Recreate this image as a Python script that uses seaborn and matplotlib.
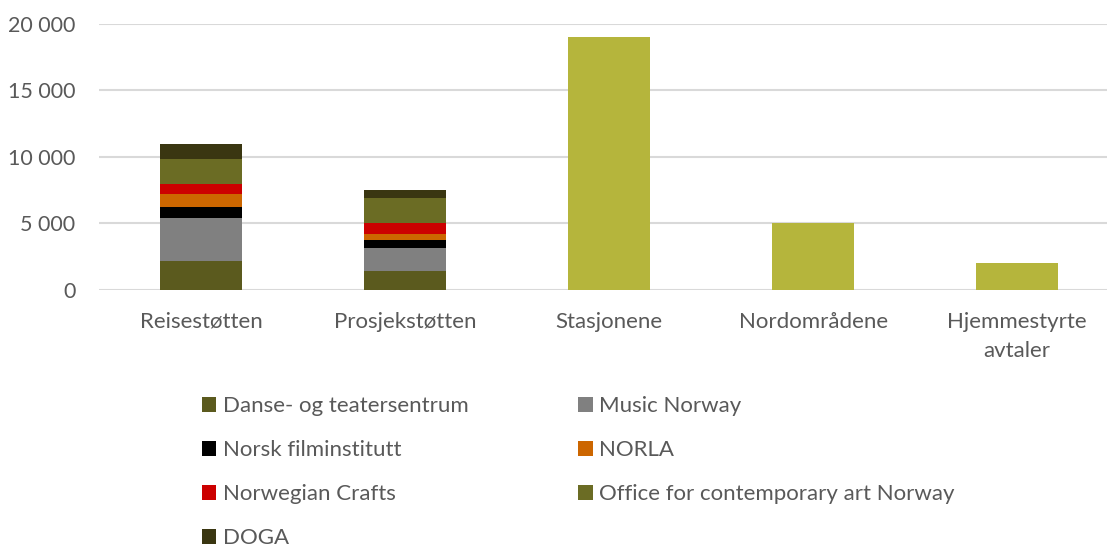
import matplotlib
matplotlib.use("Agg")
import matplotlib.pyplot as plt
import pandas as pd
import seaborn as sns
from matplotlib.patches import Patch
from matplotlib.ticker import FuncFormatter

# ---------- data ----------
categories = ["Reisestøtten", "Prosjekstøtten", "Stasjonene", "Nordområdene",
              "Hjemmestyrte\navtaler"]
stacked_cats = ["Reisestøtten", "Prosjekstøtten"]

series_names = ["Danse- og teatersentrum", "Music Norway", "Norsk filminstitutt",
                "NORLA", "Norwegian Crafts", "Office for contemporary art Norway", "DOGA"]
danse = [2150, 1375]
music = [3200, 1775]
film = [900, 575]
norla = [975, 425]
crafts = [700, 825]
oca = [1925, 1950]
doga = [1075, 575]

other_cats = ["Stasjonene", "Nordområdene", "Hjemmestyrte\navtaler"]
other_vals = [19000, 5000, 2000]

colors = ["#5B5A1E", "#808080", "#000000", "#CC6600", "#CC0000", "#6B6C24", "#3A3611"]
other_color = "#B5B53C"
text_color = "#595959"

# ---------- plot ----------
sns.set_theme(style="white")
plt.rcParams["font.family"] = ["Lato", "DejaVu Sans"]

fig = plt.figure(figsize=(11.07, 5.47), dpi=100)
ax = fig.add_axes([99 / 1107, 1 - 289.5 / 547, 1 - 99 / 1107, (289.5 - 24) / 547])

df = pd.DataFrame({"cat": stacked_cats, "Danse- og teatersentrum": danse,
                   "Music Norway": music, "Norsk filminstitutt": film, "NORLA": norla,
                   "Norwegian Crafts": crafts,
                   "Office for contemporary art Norway": oca, "DOGA": doga})
cum = df[series_names].cumsum(axis=1)

# draw cumulative totals from the top down so each segment shows its own share
for name, col in reversed(list(zip(series_names, colors))):
    sns.barplot(x=df["cat"], y=cum[name], order=categories, color=col,
                saturation=1, width=0.4, linewidth=0, ax=ax, zorder=3)

sns.barplot(x=other_cats, y=other_vals, order=categories, color=other_color,
            saturation=1, width=0.4, linewidth=0, ax=ax, zorder=3)

ax.set_xlim(-0.5, 4.44)
ax.set_ylim(0, 20000)
ax.set_yticks(range(0, 20001, 5000))
ax.yaxis.set_major_formatter(FuncFormatter(lambda v, p: f"{v:,.0f}".replace(",", " ")))
ax.set_xlabel("")
ax.set_ylabel("")
ax.grid(axis="y", color="#D9D9D9", linewidth=1.5, zorder=0)
ax.set_axisbelow(True)
for s in ax.spines.values():
    s.set_visible(False)
ax.tick_params(axis="both", length=0, labelsize=16, labelcolor=text_color)
ax.tick_params(axis="y", labelsize=15.5, pad=17)
ax.tick_params(axis="x", pad=16)
for t in ax.get_xticklabels():
    t.set_linespacing(1.55)

handles = [Patch(facecolor=c, edgecolor="none", label=n) for n, c in zip(series_names, colors)]
# matplotlib fills legend columns first, reorder to get the row-wise layout
order = [0, 2, 4, 6, 1, 3, 5]
fig.legend([handles[i] for i in order], [series_names[i] for i in order],
           ncol=2, frameon=False, loc="upper left",
           bbox_to_anchor=(193 / 1107, 1 - 387 / 547), borderaxespad=0,
           fontsize=16, labelcolor=text_color, handlelength=0.65, handleheight=0.65,
           handletextpad=0.3, labelspacing=1.08, columnspacing=4.93)

fig.savefig("out.png", dpi=100)
